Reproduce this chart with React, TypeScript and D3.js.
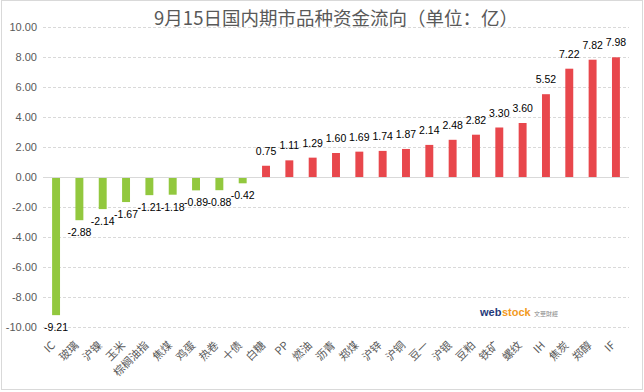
import React from "react";
import * as d3 from "d3";

const categories = ["IC","玻璃","沪镍","玉米","棕榈油指","焦煤","鸡蛋","热卷","十债","白糖","PP","燃油","沥青","郑煤","沪锌","沪铜","豆一","沪银","豆粕","铁矿","螺纹","IH","焦炭","郑醇","IF"];
const values = [-9.21,-2.88,-2.14,-1.67,-1.21,-1.18,-0.89,-0.88,-0.42,0.75,1.11,1.29,1.60,1.69,1.74,1.87,2.14,2.48,2.82,3.30,3.60,5.52,7.22,7.82,7.98];
const yTicks = [10,8,6,4,2,0,-2,-4,-6,-8,-10];
const title = "9月15日国内期市品种资金流向（单位：亿）";

const W = 644, H = 392;
const left = 43, right = 629, top = 27, bottom = 327;
const FONT = "'Liberation Sans', 'Noto Sans CJK SC', sans-serif";
const CJK = "'Noto Sans CJK SC', 'Liberation Sans', sans-serif";

export default function App() {
  const x = d3.scaleBand<string>().domain(categories).range([left, right]).paddingInner(0.66).paddingOuter(0.39);
  const y = d3.scaleLinear().domain([-10, 10]).range([bottom, top]);
  const bw = x.bandwidth();
  return (
    <svg width={W} height={H} style={{ position: "absolute", left: 0, top: 0, background: "#fff" }}>
      <rect x={1.5} y={0.5} width={W - 3} height={H - 3} fill="#fff" stroke="#D9D9D9" strokeWidth={1} />
      <text x={336} y={25} textAnchor="middle" fontFamily={CJK} fontSize={18.5} fill="#595959">{title}</text>
      {yTicks.map((t) => (
        <g key={t}>
          {t !== 0 && (
            <line x1={left} x2={right} y1={Math.round(y(t)) + 0.5} y2={Math.round(y(t)) + 0.5} stroke="#D9D9D9" strokeDasharray="3,2" />
          )}
          <text x={37} y={y(t) + 4} textAnchor="end" fontFamily={FONT} fontSize={11} fill="#595959">{t.toFixed(2)}</text>
        </g>
      ))}
      {categories.map((c, i) => {
        const v = values[i];
        const x0 = x(c)!;
        const y0 = y(Math.max(0, v));
        const h = Math.abs(y(v) - y(0));
        const cx = x0 + bw / 2;
        return (
          <g key={c}>
            <rect x={x0} y={y0} width={bw} height={h} fill={v < 0 ? "#92C83E" : "#E8474C"} />
            <text x={cx} y={v < 0 ? y(v) + 16 : y(v) - 11} textAnchor="middle" fontFamily={FONT} fontSize={10.5} fill="#000">{v.toFixed(2)}</text>
          </g>
        );
      })}
      <line x1={left} x2={right} y1={Math.round(y(0)) + 0.5} y2={Math.round(y(0)) + 0.5} stroke="#D9D9D9" />
      {categories.map((c) => {
        const cx = x(c)! + bw / 2;
        const ty = 346;
        return (
          <text key={c} x={cx} y={ty} textAnchor="end" transform={`rotate(-45 ${cx} ${ty})`} fontFamily={CJK} fontSize={11} fill="#595959">{c}</text>
        );
      })}
      <g fontFamily={FONT}>
        <text x={480} y={316} fontSize={11} fontWeight="bold" fill="#1F3A7A">web</text>
        <text x={502} y={316} fontSize={11} fontWeight="bold" fill="#F29A1E">stock</text>
        <text x={534} y={316} fontSize={6} fill="#888" fontFamily={CJK}>文華財經</text>
      </g>
    </svg>
  );
}
